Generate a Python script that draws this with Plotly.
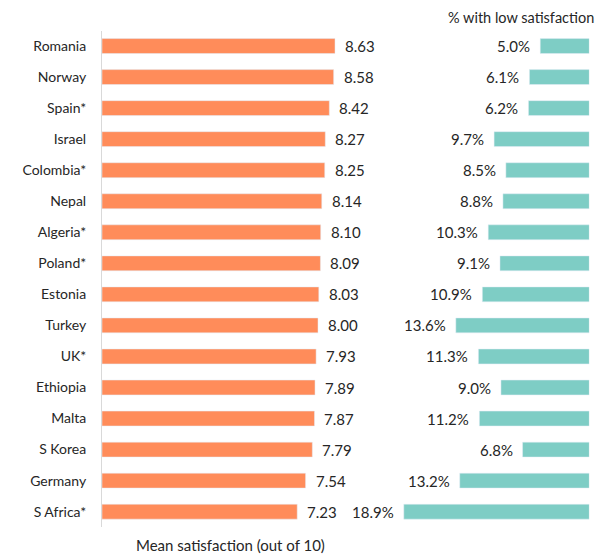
import plotly.graph_objects as go

countries = ["Romania", "Norway", "Spain*", "Israel", "Colombia*", "Nepal", "Algeria*", "Poland*",
             "Estonia", "Turkey", "UK*", "Ethiopia", "Malta", "S Korea", "Germany", "S Africa*"]
mean_sat = [8.63, 8.58, 8.42, 8.27, 8.25, 8.14, 8.10, 8.09, 8.03, 8.00, 7.93, 7.89, 7.87, 7.79, 7.54, 7.23]
low_sat = [5.0, 6.1, 6.2, 9.7, 8.5, 8.8, 10.3, 9.1, 10.9, 13.6, 11.3, 9.0, 11.2, 6.8, 13.2, 18.9]

W, H = 616, 558
FONT = "Lato"
TXT = "#262626"
ORANGE = "#FF8C5A"
TEAL = "#7ECDC5"


def px(x):
    return x / W


def py(y):
    return 1 - y / H


fig = go.Figure()
fig.add_trace(go.Bar(y=countries, x=mean_sat, orientation="h", marker_color=ORANGE,
                     xaxis="x", yaxis="y", hoverinfo="skip"))
fig.add_trace(go.Bar(y=countries, x=low_sat, orientation="h", marker_color=TEAL,
                     xaxis="x2", yaxis="y2", hoverinfo="skip"))

ann = []
for c, v in zip(countries, mean_sat):
    ann.append(dict(x=v, y=c, xref="x", yref="y", text=f"{v:.2f}", showarrow=False,
                    xanchor="left", xshift=8, font=dict(size=15, color=TXT, family=FONT)))
for c, v in zip(countries, low_sat):
    ann.append(dict(x=v, y=c, xref="x2", yref="y2", text=f"{v:.1f}%", showarrow=False,
                    xanchor="right", xshift=-8, font=dict(size=15, color=TXT, family=FONT)))
ann.append(dict(x=px(521), y=py(17), xref="paper", yref="paper", text="% with low satisfaction",
                showarrow=False, xanchor="center", yanchor="middle",
                font=dict(size=14.5, color=TXT, family=FONT)))
ann.append(dict(x=px(230), y=py(545), xref="paper", yref="paper", text="Mean satisfaction (out of 10)",
                showarrow=False, xanchor="center", yanchor="middle",
                font=dict(size=15, color=TXT, family=FONT)))

ydom = [py(527.2), py(30.5)]
fig.update_layout(
    width=W, height=H, margin=dict(l=0, r=0, t=0, b=0),
    paper_bgcolor="white", plot_bgcolor="white",
    showlegend=False, bargap=0.52,
    font=dict(family=FONT, size=14, color=TXT),
    xaxis=dict(domain=[px(102), px(372)], range=[0, 10], visible=False),
    xaxis2=dict(domain=[px(393), px(589.3)], range=[20, 0], visible=False, anchor="y2"),
    yaxis=dict(domain=ydom, autorange="reversed", type="category", showline=True,
               linecolor="#D9D9D9", linewidth=1, ticks="", showgrid=False,
               tickfont=dict(size=14, color=TXT, family=FONT), ticklabelstandoff=12),
    yaxis2=dict(domain=ydom, autorange="reversed", type="category", visible=False, anchor="x2"),
    annotations=ann,
)
fig.write_html("out.html", config={"displayModeBar": False, "staticPlot": True},
               post_script="document.body.style.margin='0';document.body.style.overflow='hidden';")
